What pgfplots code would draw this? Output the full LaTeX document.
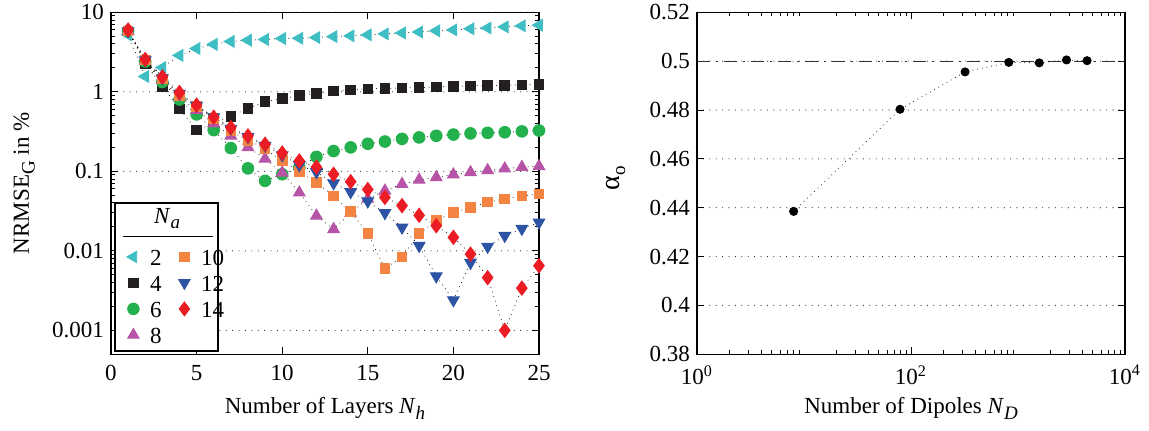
\documentclass[border=0pt]{standalone}
\usepackage{fontspec}
\setmainfont{Liberation Serif}
\usepackage{pgfplots}
\pgfplotsset{compat=1.18}

\definecolor{cA}{RGB}{62,190,195}   % N_a = 2
\definecolor{cB}{RGB}{35,31,32}     % N_a = 4
\definecolor{cC}{RGB}{35,177,77}    % N_a = 6
\definecolor{cD}{RGB}{183,84,167}   % N_a = 8
\definecolor{cE}{RGB}{244,132,66}   % N_a = 10
\definecolor{cF}{RGB}{45,84,164}    % N_a = 12
\definecolor{cG}{RGB}{236,28,36}    % N_a = 14

% lowered subscript in the style of the figure labels
\newcommand{\lsub}[1]{\raisebox{-0.55ex}{\fontsize{9.5}{10}\selectfont #1}}

\pgfplotsset{
  panel/.style={
    scale only axis, width=214pt, height=171pt,
    axis line style={line width=0.6pt},
    tick align=inside,
    major tick length=3.5pt, minor tick length=2pt,
    tick style={black, line width=0.5pt},
    ymajorgrids,
    grid style={black!90, line width=0.55pt, line cap=round, dash pattern=on 0pt off 3.2pt},
    /pgf/number format/assume math mode=true,
    xticklabel style={yshift=-2pt},
    xlabel style={at={(axis description cs:0.5,0)}, anchor=north, inner sep=0pt, yshift=-21.3pt},
  },
  serie/.style={black, line width=0.5pt, line cap=round, dash pattern=on 0pt off 2.4pt, forget plot},
  legend image code/.code={\draw[#1] plot coordinates {(0pt,0pt)};},
}

\begin{document}
\begin{tikzpicture}[font=\rmfamily\fontsize{11.5}{13.8}\selectfont]
\useasboundingbox (-55.5pt,-37.85pt) rectangle (519pt,177.15pt);

% ---------------- left panel: error versus number of layers
\begin{axis}[panel, at={(0pt,0pt)}, anchor=south west,
  xmin=0, xmax=25, xtick={0,5,...,25},
  ymode=log, ymin=5e-4, ymax=10,
  ytick={0.001,0.01,0.1,1,10}, yticklabels={0.001,0.01,0.1,1,10},
  xlabel={Number of Layers \textit{N}\lsub{\textit{h}}},
  ylabel={NRMSE\lsub{G} in \%},
  ylabel style={at={(axis description cs:-0.203,0.5)}, anchor=center, inner sep=0pt},
  legend style={at={(rel axis cs:0.036,0.324)}, anchor=north west, draw=none, fill=none,
    inner sep=0pt, row sep=0pt,
    nodes={inner sep=2pt, text height=9pt, text depth=0pt},
    /tikz/every odd column/.style={column sep=3.5pt},
    /tikz/every even column/.style={column sep=6.5pt}},
  legend columns=2, legend cell align=left,
]
\addplot[serie, mark=triangle*, mark size=3.3pt, mark options={solid, rotate=90, draw=cA, fill=cA}] coordinates {
(1,5.2)(2,1.56)(3,2.02)(4,2.87)(5,3.5)(6,3.95)(7,4.3)(8,4.45)(9,4.55)(10,4.68)(11,4.72)(12,4.82)(13,4.95)
(14,5.05)(15,5.2)(16,5.35)(17,5.5)(18,5.65)(19,5.85)(20,6.0)(21,6.2)(22,6.35)(23,6.55)(24,6.75)(25,6.9)};
\addplot[serie, mark=square*, mark size=2.4pt, mark options={solid, draw=cB, fill=cB}] coordinates {
(1,5.8)(2,2.28)(3,1.17)(4,0.61)(5,0.33)(6,0.40)(7,0.49)(8,0.62)(9,0.75)(10,0.82)(11,0.9)(12,0.96)(13,1.02)
(14,1.06)(15,1.09)(16,1.1)(17,1.12)(18,1.13)(19,1.15)(20,1.17)(21,1.19)(22,1.2)(23,1.21)(24,1.22)(25,1.24)};
\addplot[serie, mark=*, mark size=2.9pt, mark options={solid, draw=cC, fill=cC}] coordinates {
(1,5.8)(2,2.4)(3,1.33)(4,0.80)(5,0.52)(6,0.33)(7,0.196)(8,0.109)(9,0.076)(10,0.092)(11,0.112)(12,0.152)(13,0.18)
(14,0.2)(15,0.222)(16,0.237)(17,0.256)(18,0.267)(19,0.28)(20,0.29)(21,0.30)(22,0.305)(23,0.31)(24,0.318)(25,0.326)};
\addplot[serie, mark=triangle*, mark size=3.3pt, mark options={solid, draw=cD, fill=cD}] coordinates {
(1,5.8)(2,2.45)(3,1.4)(4,0.85)(5,0.59)(6,0.40)(7,0.28)(8,0.20)(9,0.144)(10,0.096)(11,0.054)(12,0.0276)(13,0.0187)
(14,0.030)(15,0.045)(16,0.057)(17,0.069)(18,0.078)(19,0.084)(20,0.091)(21,0.097)(22,0.103)(23,0.108)(24,0.113)(25,0.116)};
\addplot[serie, mark=square*, mark size=2.4pt, mark options={solid, draw=cE, fill=cE}] coordinates {
(1,5.8)(2,2.5)(3,1.45)(4,0.9)(5,0.65)(6,0.46)(7,0.32)(8,0.245)(9,0.19)(10,0.137)(11,0.1)(12,0.072)(13,0.049)
(14,0.031)(15,0.0166)(16,0.006)(17,0.0084)(18,0.0164)(19,0.024)(20,0.0305)(21,0.035)(22,0.041)(23,0.045)(24,0.049)(25,0.052)};
\addplot[serie, mark=triangle*, mark size=3.3pt, mark options={solid, rotate=180, draw=cF, fill=cF}] coordinates {
(1,5.8)(2,2.5)(3,1.48)(4,0.95)(5,0.67)(6,0.48)(7,0.345)(8,0.27)(9,0.21)(10,0.16)(11,0.12)(12,0.098)(13,0.071)
(14,0.055)(15,0.042)(16,0.030)(17,0.0197)(18,0.0116)(19,0.0048)(20,0.0024)(21,0.0071)(22,0.0113)(23,0.0155)(24,0.019)(25,0.0228)};
\addplot[serie, mark=diamond*, mark size=3.5pt, mark options={solid, draw=cG, fill=cG}] coordinates {
(1,6.0)(2,2.55)(3,1.54)(4,0.98)(5,0.68)(6,0.48)(7,0.355)(8,0.279)(9,0.219)(10,0.17)(11,0.135)(12,0.113)(13,0.092)
(14,0.074)(15,0.059)(16,0.047)(17,0.037)(18,0.028)(19,0.0207)(20,0.0148)(21,0.0091)(22,0.0046)(23,0.001)(24,0.0034)(25,0.0065)};

% legend frame, title and rule
\draw[line width=0.6pt, fill=white] (rel axis cs:0.00935,0.00965) rectangle (rel axis cs:0.25,0.4424);
\node[anchor=base, inner sep=0pt] at (rel axis cs:0.131,0.3836) {\textit{N}\lsub{\textit{a}}};
\draw[line width=0.5pt] (rel axis cs:0.028,0.3439) -- (rel axis cs:0.238,0.3439);

% legend entries, row by row
\addlegendimage{draw=none, mark=triangle*, mark size=3.3pt, mark options={solid, rotate=90, draw=cA, fill=cA}}
\addlegendentry{2}
\addlegendimage{draw=none, mark=square*, mark size=2.4pt, mark options={solid, draw=cE, fill=cE}}
\addlegendentry{10}
\addlegendimage{draw=none, mark=square*, mark size=2.4pt, mark options={solid, draw=cB, fill=cB}}
\addlegendentry{4}
\addlegendimage{draw=none, mark=triangle*, mark size=3.3pt, mark options={solid, rotate=180, draw=cF, fill=cF}}
\addlegendentry{12}
\addlegendimage{draw=none, mark=*, mark size=2.9pt, mark options={solid, draw=cC, fill=cC}}
\addlegendentry{6}
\addlegendimage{draw=none, mark=diamond*, mark size=3.5pt, mark options={solid, draw=cG, fill=cG}}
\addlegendentry{14}
\addlegendimage{draw=none, mark=triangle*, mark size=3.3pt, mark options={solid, draw=cD, fill=cD}}
\addlegendentry{8}
\end{axis}

% ---------------- right panel: alpha versus number of dipoles
\begin{axis}[panel, at={(293pt,0pt)}, anchor=south west,
  xmode=log, xmin=1, xmax=10000,
  xtick={1,100,10000},
  xticklabels={10\textsuperscript{0},10\textsuperscript{2},10\textsuperscript{4}},
  minor xtick={2,3,4,5,6,7,8,9,20,30,40,50,60,70,80,90,200,300,400,500,600,700,800,900,2000,3000,4000,5000,6000,7000,8000,9000},
  ymin=0.38, ymax=0.52,
  ytick={0.38,0.40,0.42,0.44,0.46,0.48,0.50,0.52},
  yticklabels={0.38,0.4,0.42,0.44,0.46,0.48,0.5,0.52},
  xlabel={Number of Dipoles \textit{N}\lsub{\textit{D}}},
  ylabel={{\fontsize{14}{14}\selectfont α}\lsub{o}},
  ylabel style={at={(axis description cs:-0.19,0.515)}, anchor=center, inner sep=0pt},
]
\addplot[black!80, line width=0.5pt, dash pattern=on 6.5pt off 3pt on 1pt off 3pt] coordinates {(1,0.5) (10000,0.5)};
\addplot[black, line width=0.5pt, line cap=round, dash pattern=on 0pt off 2.4pt, mark=*, mark size=2pt, mark options={solid, draw=black, fill=black}] coordinates {
(8,0.4385)(79,0.4803)(320,0.4956)(820,0.4995)(1580,0.4993)(2840,0.5005)(4420,0.5002)};
\end{axis}
\end{tikzpicture}
\end{document}
